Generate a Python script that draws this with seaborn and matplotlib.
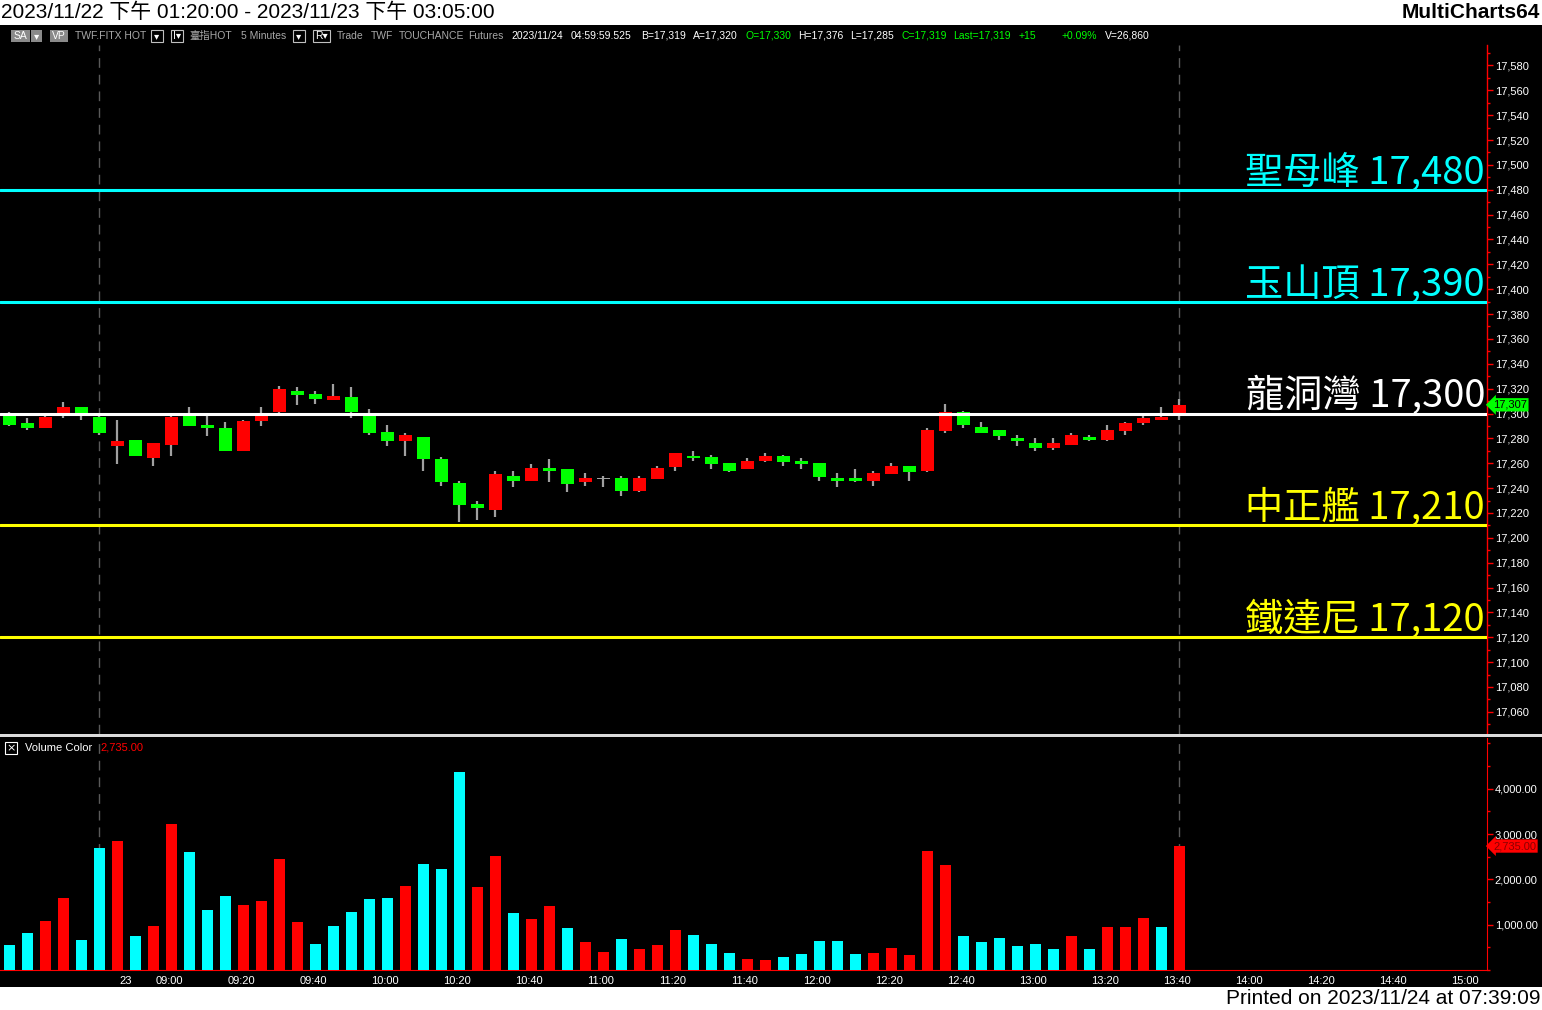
import matplotlib
matplotlib.use("Agg")
import matplotlib.pyplot as plt
import matplotlib.transforms as mtransforms
from matplotlib.patches import Rectangle
from matplotlib.ticker import MultipleLocator, FuncFormatter
import numpy as np
import pandas as pd
import seaborn as sns

# ---------------- data ----------------
opens = [17300, 17292, 17288, 17298, 17305, 17297, 17274, 17279, 17264, 17275,
         17300, 17291, 17288, 17270, 17294, 17301, 17318, 17316, 17311, 17313,
         17300, 17285, 17278, 17281, 17263, 17244, 17227, 17222, 17250, 17246,
         17256, 17255, 17245, 17248, 17248, 17238, 17247, 17257, 17266, 17265,
         17260, 17255, 17262, 17266, 17262, 17260, 17248, 17248, 17246, 17251,
         17258, 17254, 17286, 17301, 17289, 17287, 17280, 17276, 17272, 17275,
         17281, 17279, 17286, 17292, 17295, 17298]
highs = [17301, 17296, 17299, 17309, 17305, 17299, 17295, 17279, 17276, 17299,
         17305, 17299, 17293, 17295, 17305, 17322, 17321, 17318, 17324, 17321,
         17304, 17291, 17284, 17281, 17265, 17246, 17230, 17254, 17254, 17259,
         17263, 17255, 17252, 17250, 17250, 17250, 17258, 17268, 17270, 17267,
         17260, 17264, 17268, 17267, 17264, 17260, 17252, 17255, 17254, 17260,
         17258, 17288, 17308, 17302, 17293, 17287, 17283, 17280, 17280, 17284,
         17283, 17291, 17293, 17299, 17305, 17312]
lows = [17290, 17287, 17288, 17296, 17295, 17283, 17259, 17266, 17258, 17266,
        17290, 17282, 17270, 17270, 17290, 17300, 17307, 17308, 17311, 17296,
        17283, 17274, 17266, 17254, 17242, 17213, 17214, 17217, 17241, 17246,
        17245, 17237, 17242, 17241, 17234, 17237, 17247, 17254, 17262, 17255,
        17253, 17255, 17261, 17258, 17255, 17246, 17241, 17245, 17242, 17251,
        17246, 17253, 17284, 17288, 17284, 17279, 17274, 17270, 17271, 17275,
        17278, 17278, 17283, 17291, 17295, 17295]
closes = [17291, 17288, 17297, 17305, 17300, 17284, 17278, 17266, 17276, 17297,
          17290, 17288, 17270, 17294, 17300, 17320, 17315, 17312, 17314, 17301,
          17284, 17278, 17283, 17263, 17245, 17226, 17224, 17251, 17246, 17256,
          17254, 17243, 17248, 17248, 17238, 17248, 17256, 17268, 17264, 17259,
          17254, 17262, 17266, 17261, 17259, 17249, 17246, 17246, 17252, 17258,
          17253, 17287, 17301, 17291, 17284, 17282, 17278, 17272, 17276, 17283,
          17279, 17287, 17292, 17296, 17297, 17307]
volumes = [558, 823, 1088, 1595, 668, 2698, 2852, 757, 977, 3227,
           2610, 1330, 1639, 1441, 1529, 2455, 1066, 580, 977, 1286,
           1573, 1595, 1860, 2345, 2235, 4375, 1838, 2522, 1264, 1130,
           1418, 927, 615, 390, 682, 459, 547, 882, 770, 569,
           368, 234, 212, 280, 346, 638, 638, 346, 368, 481,
           324, 2627, 2314, 748, 617, 704, 525, 569, 459, 748,
           459, 951, 951, 1152, 951, 2735]
volume_dir = list("DDUUDDUDUUDDDUUUUDDDDDUDDDUU"
                  "DUUDUUDUUUDDDUUDDDDDUUUUUDDDDDDUDUUUDU")

level_names = ["聖母峰", "玉山頂", "龍洞灣", "中正艦", "鐵達尼"]
level_values = [17480, 17390, 17300, 17210, 17120]
level_colors = ["#00ffff", "#00ffff", "#ffffff", "#ffff00", "#ffff00"]

bar_times = (list(pd.date_range("2023-11-22 13:20", "2023-11-22 13:45", freq="5min")) +
             list(pd.date_range("2023-11-23 08:50", "2023-11-23 13:45", freq="5min")))
tick_times = ["08:50", "09:00", "09:20", "09:40", "10:00", "10:20", "10:40", "11:00",
              "11:20", "11:40", "12:00", "12:20", "12:40", "13:00", "13:20", "13:40",
              "14:00", "14:20", "14:40", "15:00"]
tick_labels = ["23"] + tick_times[1:]
last_price = 17307
last_volume = 2735.00

# ---------------- setup ----------------
sns.set_style("dark")
plt.rcParams['font.family'] = ['Liberation Sans', 'Noto Sans CJK TC', 'DejaVu Sans']
NARROW = ['Liberation Sans Narrow', 'Liberation Sans', 'Noto Sans CJK TC', 'DejaVu Sans']

W, H = 1542, 1010
fig = plt.figure(figsize=(W / 100, H / 100), dpi=100, facecolor='black')


def fx(px):
    return px / W


def fy(py):
    return 1 - py / H


# white bands top and bottom
fig.patches.append(Rectangle((0, fy(25)), 1, 25 / H, transform=fig.transFigure,
                             fc='white', ec='none', zorder=0))
fig.patches.append(Rectangle((0, 0), 1, (H - 987) / H, transform=fig.transFigure,
                             fc='white', ec='none', zorder=0))

fig.text(fx(1), fy(12.5), "2023/11/22 下午 01:20:00 - 2023/11/23 下午 03:05:00",
         fontsize=15, color='black', va='center', ha='left')
fig.text(fx(1540), fy(12.5), "MultiCharts64", fontsize=15, fontweight='bold',
         color='black', va='center', ha='right')
fig.text(fx(1540), fy(998), "Printed on 2023/11/24 at 07:39:09", fontsize=15,
         color='black', va='center', ha='right')

# ---------------- header strip ----------------
HY = 36


def hbox(x0, x1, label, fill=None, tc='white'):
    fig.patches.append(Rectangle((fx(x0), fy(42)), (x1 - x0) / W, 12 / H,
                                 transform=fig.transFigure,
                                 fc=fill if fill else 'black',
                                 ec='#c0c0c0' if not fill else 'none', lw=0.8, zorder=2))
    if label:
        fig.text(fx((x0 + x1) / 2), fy(HY), label, fontsize=7.5, color=tc,
                 va='center', ha='center', family=NARROW, zorder=3)


hbox(11, 30, "SA", fill='#8a8a8a')
hbox(31, 42, "▾", fill='#8a8a8a')
hbox(50, 68, "VP", fill='#8a8a8a')
hbox(151, 163, "▾")
hbox(171, 183, "I▾")
hbox(293, 305, "▾")
hbox(313, 330, "R▾")

header_items = [
    (75, "TWF.FITX HOT", '#a8a8a8'), (189, "臺指HOT", '#a8a8a8'), (241, "5 Minutes", '#a8a8a8'),
    (337, "Trade", '#a8a8a8'), (371, "TWF", '#a8a8a8'), (399, "TOUCHANCE", '#a8a8a8'),
    (468, "Futures", '#a8a8a8'), (511, "2023/11/24", 'white'), (571, "04:59:59.525", 'white'),
    (641, "B=17,319", 'white'), (693, "A=17,320", 'white'), (745, "O=17,330", '#00ff00'),
    (798, "H=17,376", 'white'), (850, "L=17,285", 'white'), (901, "C=17,319", '#00ff00'),
    (953, "Last=17,319", '#00ff00'), (1019, "+15", '#00ff00'), (1062, "+0.09%", '#00ff00'),
    (1105, "V=26,860", 'white'),
]
for x0, s, c in header_items:
    fig.text(fx(x0), fy(HY), s, fontsize=7.5, color=c, va='center', ha='left', family=NARROW)

# ---------------- price panel ----------------
n = len(closes)
x = np.arange(n)
o = np.array(opens, float)
c = np.array(closes, float)
hi = np.array(highs, float)
lo = np.array(lows, float)

XL = (-9.3 / 18, (1487 - 9.3) / 18)
PPX = 1.243  # px per point
ax = fig.add_axes([0, fy(734), fx(1487), (734 - 45) / H])
ax.set_facecolor('black')
ax.set_xlim(*XL)
ax.set_ylim(17300 - (734 - 413.5) / PPX, 17300 + (413.5 - 45) / PPX)

body_bot = np.minimum(o, c)
body_h = np.abs(c - o)
body_col = np.where(c > o, '#ff0000', np.where(c < o, '#00ff00', '#a0a0a0'))
body_h = np.where(body_h == 0, 1.0, body_h)
body_bot = np.where(np.abs(c - o) == 0, body_bot - 0.5, body_bot)

ax.vlines(x, lo, hi, color='#a0a0a0', lw=1.6, zorder=2)
ax.bar(x, body_h, bottom=body_bot, width=0.72, color=body_col, linewidth=0, zorder=3)

ytrans = mtransforms.blended_transform_factory(ax.transAxes, ax.transData)
for name, val, col in zip(level_names, level_values, level_colors):
    ax.axhline(val, color=col, lw=2.2, zorder=5)
    ax.text(1485 / 1487, val + 5, f"{name} {val:,}", transform=ytrans, ha='right',
            va='baseline', fontsize=27.5, color=col,
            family=['Noto Sans CJK TC', 'DejaVu Sans'], zorder=6)

for sp in ['top', 'left', 'bottom']:
    ax.spines[sp].set_visible(False)
ax.spines['right'].set_color('red')
ax.spines['right'].set_linewidth(1)
ax.yaxis.tick_right()
ax.set_yticks(np.arange(17060, 17581, 20))
ax.yaxis.set_major_formatter(FuncFormatter(lambda v, p: f"{int(v):,}"))
ax.yaxis.set_minor_locator(MultipleLocator(10))
ax.tick_params(axis='y', which='major', colors='red', labelcolor='white', length=4,
               width=1, labelsize=8, pad=1.5)
ax.tick_params(axis='y', which='minor', colors='red', length=2, width=1)
ax.set_xticks([])
ax.grid(False)

ax.text(1 + 6 / 1487, last_price, f"{last_price:,}", transform=ytrans, ha='left',
        va='center', fontsize=8, color='black', clip_on=False, zorder=10,
        bbox=dict(boxstyle='larrow,pad=0.15', fc='#00ff00', ec='none'))

# ---------------- separator ----------------
fig.patches.append(Rectangle((0, fy(737)), 1, 3 / H, transform=fig.transFigure,
                             fc='#dcdcdc', ec='none', zorder=1))

# ---------------- volume panel ----------------
PXV = 45.33 / 1000
axv = fig.add_axes([0, fy(970), fx(1487), (970 - 738) / H])
axv.set_facecolor('black')
df = pd.DataFrame({'idx': x, 'vol': volumes,
                   'dir': ['up' if d == 'U' else 'down' for d in volume_dir]})
sns.barplot(data=df, x='idx', y='vol', hue='dir', palette={'up': '#ff0000', 'down': '#00ffff'},
            native_scale=True, width=0.61, saturation=1, dodge=False, legend=False,
            errorbar=None, linewidth=0, ax=axv, zorder=3)
axv.set_xlim(*XL)
axv.set_ylim(0, (970 - 738) / PXV)
axv.set_xlabel("")
axv.set_ylabel("")
axv.grid(False)
for sp in ['top', 'left']:
    axv.spines[sp].set_visible(False)
axv.spines['right'].set_color('red')
axv.spines['bottom'].set_color('red')
axv.yaxis.tick_right()
axv.set_yticks([1000, 2000, 3000, 4000])
axv.yaxis.set_major_formatter(FuncFormatter(lambda v, p: f"{v:,.2f}"))
axv.yaxis.set_minor_locator(MultipleLocator(500))
axv.tick_params(axis='y', which='major', colors='red', labelcolor='white', length=4,
                width=1, labelsize=8, pad=1.5)
axv.tick_params(axis='y', which='minor', colors='red', length=2, width=1)

t0 = pd.Timestamp("2023-11-23 08:50")
first_day_idx = [i for i, t in enumerate(bar_times) if t == t0][0]
tick_pos = [first_day_idx + (pd.Timestamp("2023-11-23 " + t) - t0) / pd.Timedelta("5min")
            for t in tick_times]
axv.set_xticks(tick_pos)
axv.set_xticklabels(tick_labels)
axv.tick_params(axis='x', colors='#d0d0d0', labelcolor='white', length=3, width=1,
                labelsize=8, pad=1.5)
offset = mtransforms.ScaledTranslation(2 / 100, 0, fig.dpi_scale_trans)
for lab in axv.get_xticklabels():
    lab.set_ha('left')
    lab.set_transform(lab.get_transform() + offset)

vtrans = mtransforms.blended_transform_factory(axv.transAxes, axv.transData)
axv.text(1 + 6 / 1487, last_volume, f"{last_volume:,.2f}", transform=vtrans, ha='left',
         va='center', fontsize=8, color='#8a0000', clip_on=False, zorder=10,
         bbox=dict(boxstyle='larrow,pad=0.15', fc='#ff0000', ec='none'))

# volume header
fig.patches.append(Rectangle((fx(5), fy(754)), 12 / W, 12 / H, transform=fig.transFigure,
                             fc='black', ec='white', lw=0.8, zorder=3))
fig.text(fx(11), fy(748), "×", fontsize=8, color='white', ha='center', va='center',
         family=['DejaVu Sans'])
fig.text(fx(25), fy(748), "Volume Color", fontsize=8, color='white', ha='left', va='center')
fig.text(fx(100), fy(748), f"{last_volume:,.2f}", fontsize=8, color='#ff0000', ha='left',
         va='center')

# session / cursor dashed lines
for a in (ax, axv):
    for xi in (5, n - 1):
        a.axvline(xi, color='#5a5a5a', lw=1, ls=(0, (7, 5)), zorder=1)

fig.savefig("out.png", dpi=100, facecolor=fig.get_facecolor())
